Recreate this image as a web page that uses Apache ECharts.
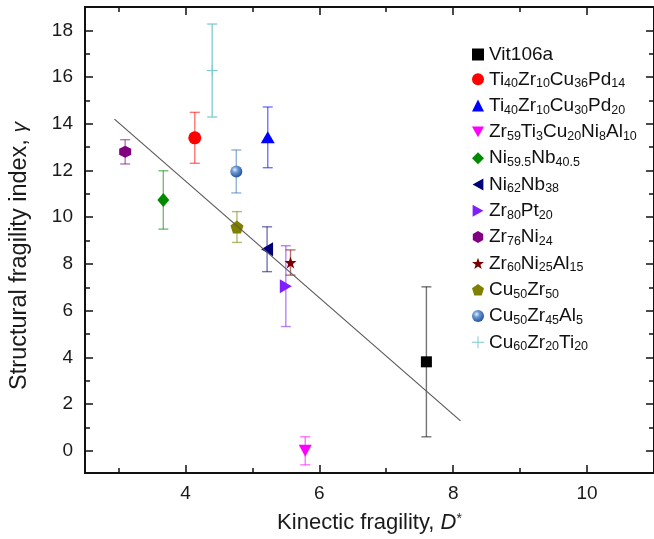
<!DOCTYPE html>
<html>
<head>
<meta charset="utf-8">
<script src="https://cdn.jsdelivr.net/npm/echarts@6/dist/echarts.min.js"></script>
<style>
  html, body { margin: 0; padding: 0; background: #ffffff; }
  #chart { width: 654px; height: 539px; }
</style>
</head>
<body>
<div id="chart"></div>
<script>
// Alloys and their kinetic fragility D* vs structural fragility index gamma
const alloys = [
  'Vit106a',
  'Ti40Zr10Cu36Pd14',
  'Ti40Zr10Cu30Pd20',
  'Zr59Ti3Cu20Ni8Al10',
  'Ni59.5Nb40.5',
  'Ni62Nb38',
  'Zr80Pt20',
  'Zr76Ni24',
  'Zr60Ni25Al15',
  'Cu50Zr50',
  'Cu50Zr45Al5',
  'Cu60Zr20Ti20'
];
const kineticFragility = [7.60, 4.14, 5.23, 5.79, 3.67, 5.22, 5.50, 3.10, 5.57, 4.77, 4.76, 4.40];
const structuralIndex  = [3.81, 13.40, 13.42, 0.00, 10.74, 8.63, 7.05, 12.80, 8.06, 9.58, 11.96, 16.28];
const indexError       = [3.21, 1.09, 1.30, 0.60, 1.25, 0.96, 1.73, 0.52, 0.54, 0.66, 0.92, 1.99];

// Linear trend line end points
const fitD = [2.94, 8.11];
const fitGamma = [14.2, 1.28];

// Axis ticks and labels
const xMajorTicks = [4, 6, 8, 10];
const xMinorTicks = [3, 5, 7, 9, 11];
const yMajorTicks = [0, 2, 4, 6, 8, 10, 12, 14, 16, 18];
const yMinorTicks = [1, 3, 5, 7, 9, 11, 13, 15, 17];

// Marker appearance per alloy
const markerColors = ['#000000', '#ff0000', '#0000ff', '#ff00ff', '#008a00', '#00007a',
                      '#7f1fff', '#800080', '#7a0000', '#7f7f00', '#3a6fb5', '#7ccaca'];
const hexagon = 'path://M0,-10 L8.66,-5 L8.66,5 L0,10 L-8.66,5 L-8.66,-5 Z';
const star = 'path://M0,-10 L2.35,-3.24 L9.51,-3.09 L3.8,1.24 L5.88,8.09 L0,4 L-5.88,8.09 L-3.8,1.24 L-9.51,-3.09 L-2.35,-3.24 Z';
const pentagon = 'path://M0,-10 L9.51,-3.09 L5.88,8.09 L-5.88,8.09 L-9.51,-3.09 Z';
const plus = 'path://M-0.8,-10 L0.8,-10 L0.8,-0.8 L10,-0.8 L10,0.8 L0.8,0.8 L0.8,10 L-0.8,10 L-0.8,0.8 L-10,0.8 L-10,-0.8 L-0.8,-0.8 Z';
const triDown = 'path://M-10,-9 L10,-9 L0,9 Z';
const triLeft = 'path://M9,-10 L9,10 L-9,0 Z';
const triRight = 'path://M-9,-10 L-9,10 L9,0 Z';
const markerSymbols = ['rect', 'circle', 'triangle', triDown, 'diamond', triLeft,
                       triRight, hexagon, star, pentagon, 'circle', plus];
const markerSizes = [[11, 11], 13, [14, 12], [13, 12], [12, 14], [12, 14],
                     [12, 14], 12, 12, 13, 12, 11];

const sphereFill = {
  type: 'radial', x: 0.38, y: 0.35, r: 0.7,
  colorStops: [
    { offset: 0, color: '#e3eefb' },
    { offset: 0.35, color: '#6b9bd6' },
    { offset: 1, color: '#1d4c94' }
  ]
};

const FONT = 'Liberation Sans, Arial, Helvetica, sans-serif';
const plainNames = ['Vit106a'];

function formulaRich(name) {
  if (plainNames.indexOf(name) >= 0) return '{n|' + name + '}';
  return name.replace(/([A-Za-z]+)|(\d+(?:\.\d+)?)/g, function (m, el, num) {
    return el ? '{n|' + el + '}' : '{s|' + num + '}';
  });
}

const chart = echarts.init(document.getElementById('chart'), null, { renderer: 'canvas' });

const scatterSeries = alloys.map(function (name, i) {
  return {
    name: name,
    type: 'scatter',
    xAxisIndex: 0,
    yAxisIndex: 0,
    z: 4,
    symbol: markerSymbols[i],
    symbolSize: markerSizes[i],
    itemStyle: { color: i === 10 ? sphereFill : markerColors[i], opacity: 1 },
    data: [[kineticFragility[i], structuralIndex[i]]],
    emphasis: { disabled: true }
  };
});

const errorData = alloys.map(function (name, i) {
  return [kineticFragility[i], structuralIndex[i], indexError[i], i];
});

const errorSeries = {
  type: 'custom',
  xAxisIndex: 0,
  yAxisIndex: 0,
  z: 3,
  silent: true,
  data: errorData,
  encode: { x: 0, y: 1 },
  renderItem: function (params, api) {
    const x = api.value(0), y = api.value(1), e = api.value(2);
    const idx = api.value(3);
    const top = api.coord([x, y + e]);
    const bot = api.coord([x, y - e]);
    const half = 5;
    const style = { stroke: markerColors[idx], lineWidth: 1.4, opacity: idx === 11 ? 0.9 : 0.55 };
    return {
      type: 'group',
      children: [
        { type: 'line', shape: { x1: top[0], y1: top[1], x2: bot[0], y2: bot[1] }, style: style },
        { type: 'line', shape: { x1: top[0] - half, y1: top[1], x2: top[0] + half, y2: top[1] }, style: style },
        { type: 'line', shape: { x1: bot[0] - half, y1: bot[1], x2: bot[0] + half, y2: bot[1] }, style: style }
      ]
    };
  }
};

// Trend line sits on top of the markers
const fitSeries = {
  type: 'line',
  xAxisIndex: 0,
  yAxisIndex: 0,
  z: 5,
  silent: true,
  symbol: 'none',
  lineStyle: { color: '#5a5a5a', width: 1.2 },
  data: fitD.map(function (d, i) { return [d, fitGamma[i]]; })
};

const xRange = { min: 2.5, max: 11 };
const yRange = { min: -0.95, max: 19 };

function tickAxis(base, position, values, len, withLine) {
  return Object.assign({
    type: 'value',
    position: position,
    axisLine: { show: withLine, onZero: false, lineStyle: { color: '#111111', width: 2 } },
    axisTick: { show: true, inside: true, length: len, customValues: values,
                lineStyle: { color: '#111111', width: 1.5 } },
    axisLabel: { show: false },
    splitLine: { show: false }
  }, base);
}

const xMain = tickAxis(xRange, 'bottom', xMajorTicks, 8, true);
xMain.axisLabel = { show: true, customValues: xMajorTicks, margin: 11,
                    fontSize: 19, fontFamily: FONT, color: '#1a1a1a' };
xMain.name = 'Kinectic fragility, {i|D}{sup|*}';
xMain.nameLocation = 'middle';
xMain.nameGap = 39;
xMain.nameTextStyle = {
  fontSize: 22, fontFamily: FONT, color: '#1a1a1a',
  rich: {
    i: { fontStyle: 'italic', fontSize: 22, fontFamily: FONT, color: '#1a1a1a' },
    sup: { fontSize: 14, fontFamily: FONT, color: '#1a1a1a', verticalAlign: 'top', lineHeight: 14 }
  }
};

const yMain = tickAxis(yRange, 'left', yMajorTicks, 8, true);
yMain.axisLabel = { show: true, customValues: yMajorTicks, margin: 12,
                    fontSize: 19, fontFamily: FONT, color: '#1a1a1a' };
yMain.name = 'Structural fragility index, {i|γ}';
yMain.nameLocation = 'middle';
yMain.nameGap = 53;
yMain.nameTextStyle = {
  fontSize: 23.5, fontFamily: FONT, color: '#1a1a1a',
  padding: [0, 32, 0, 0],
  rich: { i: { fontStyle: 'italic', fontSize: 21, fontFamily: FONT, color: '#1a1a1a' } }
};

const option = {
  backgroundColor: '#ffffff',
  animation: false,
  grid: { left: 79, top: 7, width: 576, height: 466, containLabel: false },
  xAxis: [
    xMain,
    tickAxis(xRange, 'bottom', xMinorTicks, 5, false),
    tickAxis(xRange, 'top', xMajorTicks, 8, true),
    tickAxis(xRange, 'top', xMinorTicks, 5, false)
  ],
  yAxis: [
    yMain,
    tickAxis(yRange, 'left', yMinorTicks, 5, false),
    tickAxis(yRange, 'right', yMajorTicks, 8, true),
    tickAxis(yRange, 'right', yMinorTicks, 5, false)
  ],
  legend: {
    orient: 'vertical',
    left: 467,
    top: 40,
    itemWidth: 12,
    itemHeight: 12,
    itemGap: 5.8,
    selectedMode: false,
    data: alloys,
    formatter: formulaRich,
    textStyle: {
      fontFamily: FONT,
      color: '#111111',
      rich: {
        n: { fontSize: 19, lineHeight: 22, fontFamily: FONT, color: '#111111' },
        s: { fontSize: 12.5, lineHeight: 10, verticalAlign: 'bottom', fontFamily: FONT, color: '#111111' }
      }
    }
  },
  series: [fitSeries, errorSeries].concat(scatterSeries)
};

chart.setOption(option);
</script>
</body>
</html>
